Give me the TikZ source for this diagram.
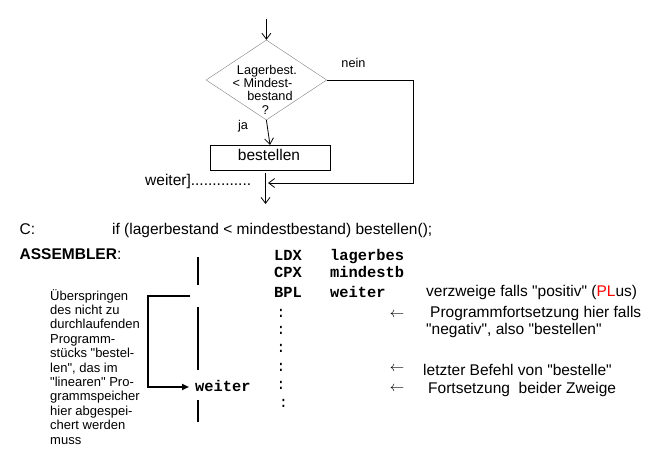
\documentclass[tikz,border=0pt]{standalone}
\usepackage{fontspec}
\setmainfont{Liberation Sans}[Ligatures=TeXOff]
\setmonofont{Liberation Mono}
\usetikzlibrary{arrows.meta,shapes.geometric}
\begin{document}
\begin{tikzpicture}[x=1pt,y=-1pt,
  txt/.style={inner sep=0pt, anchor=base west, font=\fontsize{15.5}{18}\selectfont},
  side/.style={inner sep=0pt, anchor=base west, font=\fontsize{13}{14.4}\selectfont},
  small/.style={inner sep=0pt, anchor=base, font=\fontsize{12.7}{14}\selectfont},
  code/.style={inner sep=0pt, anchor=base west, font=\fontsize{15.4}{18}\selectfont\ttfamily\bfseries},
  dots/.style={inner sep=0pt, anchor=base, font=\fontsize{15.4}{18}\selectfont\ttfamily},
  larr/.style={inner sep=0pt, anchor=base, font=\fontsize{15}{18}\selectfont},
  flow/.style={line width=0.8pt},
  vtip/.style={flow,-{Straight Barb[length=6pt,width=9pt]}},
  bar/.style={line width=2.6pt},
  bracket/.style={line width=2.2pt,-{Triangle[length=7pt,width=6pt]}},
]
\useasboundingbox (0,0) rectangle (666,462);

% ---------- flowchart ----------
\node[draw=gray, diamond, minimum width=120.7pt, minimum height=80pt, inner sep=0pt] (dec) at (266.4,80) {};
\node[small] (t1) at (267,74.5) {Lagerbest.};
\node[small] (t2) at (262.5,87.5) {< Mindest-};
\node[small] (t3) at (270,100.5) {bestand};
\node[small] (t4) at (265.5,115) {?};
\node[small] (nein) at (353.5,68) {nein};
\node[small] (ja) at (243,130) {ja};

\node[draw, flow, minimum width=120pt, minimum height=24.7pt, inner sep=0pt] (box) at (270,157.7) {};
\node[txt, anchor=base] (boxt) at (269,160.5) {bestellen};

\coordinate (start) at (266.4,19);
\draw[vtip] (start) -- (dec.north);
\draw[vtip] (dec.south) -- (box.north);
\coordinate (below) at (265.5,173);
\coordinate (endp) at (265.5,204);
\draw[vtip] (below) -- (endp);
\coordinate (nr) at (413,80);
\coordinate (nb) at (413,183);
\coordinate (mt) at (268,183);
\draw[vtip] (dec.east) -- (nr) -- (nb) -- (mt);

\node[txt] (weiterF) at (145,185.5) {weiter]..............};

% ---------- C line ----------
\node[txt] (c) at (19.5,234.5) {C:};
\node[txt] (cif) at (112,234.5) {if (lagerbestand < mindestbestand) bestellen();};
\node[txt] (asm) at (19.5,259.5) {\textbf{ASSEMBLER}:};

% ---------- assembler ----------
\node[code] (ldx) at (274,261) {LDX};
\node[code] (ldxa) at (330,261) {lagerbes};
\node[code] (cpx) at (274,277) {CPX};
\node[code] (cpxa) at (330,277) {mindestb};
\node[code] (bpl) at (274,297) {BPL};
\node[code] (bpla) at (330,297) {weiter};
\node[code] (weiterL) at (195,391) {weiter};

\node[dots] (d1) at (281,317) {:};
\node[dots] (d2) at (281,334) {:};
\node[dots] (d3) at (281,352) {:};
\node[dots] (d4) at (281,371) {:};
\node[dots] (d5) at (281,389) {:};
\node[dots] (d6) at (283.5,407.5) {:};

\node[larr] (a1) at (397,317.5) {$\leftarrow$};
\node[larr] (a2) at (397,371.5) {$\leftarrow$};
\node[larr] (a3) at (397,391.5) {$\leftarrow$};

\node[txt] (r1) at (426,296.5) {verzweige falls "positiv" (\textcolor{red}{PL}us)};
\node[txt] (r2) at (430,317) {Programmfortsetzung hier falls};
\node[txt] (r3) at (426,334) {"negativ", also "bestellen"};
\node[txt] (r4) at (423,375) {letzter Befehl von "bestelle"};
\node[txt] (r5) at (428,393) {Fortsetzung\ \ beider Zweige};

% ---------- bars and bracket ----------
\draw[bar] (198,257) -- (198,285);
\draw[bar] (198,307) -- (198,370);
\draw[bar] (198,400) -- (198,422);
\coordinate (bs) at (190,296);
\coordinate (bc1) at (148,296);
\coordinate (bc2) at (148,387);
\coordinate (be) at (189,387);
\draw[bracket] (bs) -- (bc1) -- (bc2) -- (be);

% ---------- left explanation ----------
\foreach \s [count=\i from 0] in {Überspringen,des nicht zu,durchlaufenden,Programm-,stücks "bestel-,{len", das im},"linearen" Pro-,grammspeicher,hier abgespei-,chert werden,muss}
  \node[side] (l\i) at (50,300+14.4*\i) {\s};
\end{tikzpicture}
\end{document}
